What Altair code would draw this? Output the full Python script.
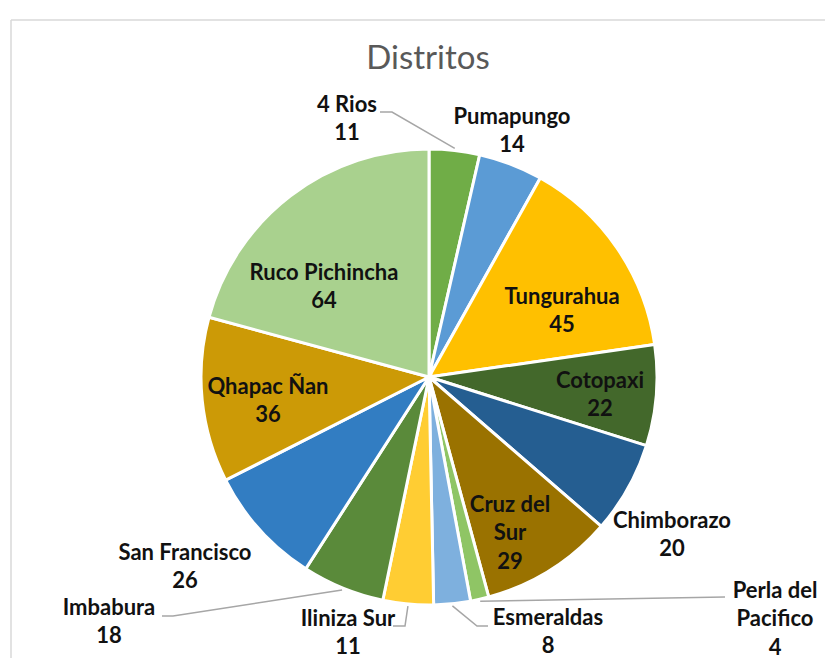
import math
import altair as alt
import pandas as pd

# ---- data ----
districts = ["4 Rios", "Pumapungo", "Tungurahua", "Cotopaxi", "Chimborazo",
             "Cruz del Sur", "Perla del Pacifico", "Esmeraldas", "Iliniza Sur",
             "Imbabura", "San Francisco", "Qhapac Ñan", "Ruco Pichincha"]
counts = [11, 14, 45, 22, 20, 29, 4, 8, 11, 18, 26, 36, 64]
colors = ["#70AD47", "#5B9BD5", "#FFC000", "#43682B", "#255E91", "#9A7200",
          "#8FC565", "#7EB0DE", "#FFCD33", "#5A8A3A", "#327DC2", "#CC9A06", "#A9D18E"]
label_names = ["4 Rios", "Pumapungo", "Tungurahua", "Cotopaxi", "Chimborazo",
               "Cruz del\nSur", "Perla del\nPacifico", "Esmeraldas", "Iliniza Sur",
               "Imbabura", "San Francisco", "Qhapac Ñan", "Ruco Pichincha"]

# ---- layout (label block centres relative to pie centre, px) ----
label_dx = [-82, 83, 133, 171, 243, 81, 346, 119, -81, -320, -244, -161, -105]
label_dy = [-258, -246, -66, 18, 158, 156, 242, 255, 256, 245, 190, 24, -90]
# leader lines: slice index -> bend/end offsets relative to pie centre
leaders = {
    0: [(-37, -265), (-49, -265)],
    6: [(296, 220)],
    7: [(48, 249), (59, 249)],
    8: [(-24, 249), (-36, 249)],
    9: [(-256, 239), (-267, 239)],
}

W, H = 817, 650
CX, CY, R = 421, 369, 228
LH = 28.5

total = sum(counts)
df = pd.DataFrame({"district": districts, "count": counts, "idx": range(len(counts))})

# label table (y of first line so the block is centred on the layout point)
txts = [f"{n}\n{c}" for n, c in zip(label_names, counts)]
lab = pd.DataFrame({
    "txt": txts,
    "lx": [CX + d for d in label_dx],
    "ly": [CY + d - (t.count("\n")) * LH / 2 for d, t in zip(label_dy, txts)],
})

# leader line table: start point on the pie edge at the slice's mid angle
rows = []
cum = 0
mids = []
for c in counts:
    mids.append((cum + c / 2) / total * 2 * math.pi)
    cum += c
for i, pts in leaders.items():
    a = mids[i]
    rows.append({"path": i, "o": 0, "x": CX + (R + 2) * math.sin(a), "y": CY - (R + 2) * math.cos(a)})
    for k, (dx, dy) in enumerate(pts):
        rows.append({"path": i, "o": k + 1, "x": CX + dx, "y": CY + dy})
ld = pd.DataFrame(rows)

pie = alt.Chart(df).mark_arc(radius=R, stroke="white", strokeWidth=3).encode(
    theta=alt.Theta("count:Q", stack=True),
    order=alt.Order("idx:Q"),
    color=alt.Color("district:N", scale=alt.Scale(domain=districts, range=colors), legend=None),
    x=alt.value(CX),
    y=alt.value(CY),
)

lines = alt.Chart(ld).mark_line(color="#A6A6A6", strokeWidth=1.5).encode(
    x=alt.X("x:Q", scale=None),
    y=alt.Y("y:Q", scale=None),
    detail="path:N",
    order="o:Q",
)

labels = alt.Chart(lab).mark_text(
    font="Lato", fontWeight="bold", fontSize=22, color="#111111",
    lineBreak="\n", lineHeight=LH, align="center", baseline="middle",
).encode(
    x=alt.X("lx:Q", scale=None),
    y=alt.Y("ly:Q", scale=None),
    text="txt:N",
)

title = alt.Chart(pd.DataFrame({"t": ["Distritos"]})).mark_text(
    font="Lato", fontSize=33, color="#595959", align="center", baseline="alphabetic",
).encode(x=alt.value(420), y=alt.value(61), text="t:N")

frame_top = alt.Chart(pd.DataFrame({"a": [0]})).mark_rule(color="#D9D9D9", strokeWidth=1.5).encode(
    x=alt.value(3), x2=alt.value(W), y=alt.value(12))
frame_left = alt.Chart(pd.DataFrame({"a": [0]})).mark_rule(color="#D9D9D9", strokeWidth=1.5).encode(
    x=alt.value(3), y=alt.value(12), y2=alt.value(H))

chart = alt.layer(frame_top, frame_left, pie, lines, labels, title).properties(
    width=W, height=H, padding=0,
    autosize=alt.AutoSizeParams(type="fit", contains="padding"),
).configure_view(stroke=None)

chart.save("out.html", embed_options={"renderer": "svg", "actions": False})
